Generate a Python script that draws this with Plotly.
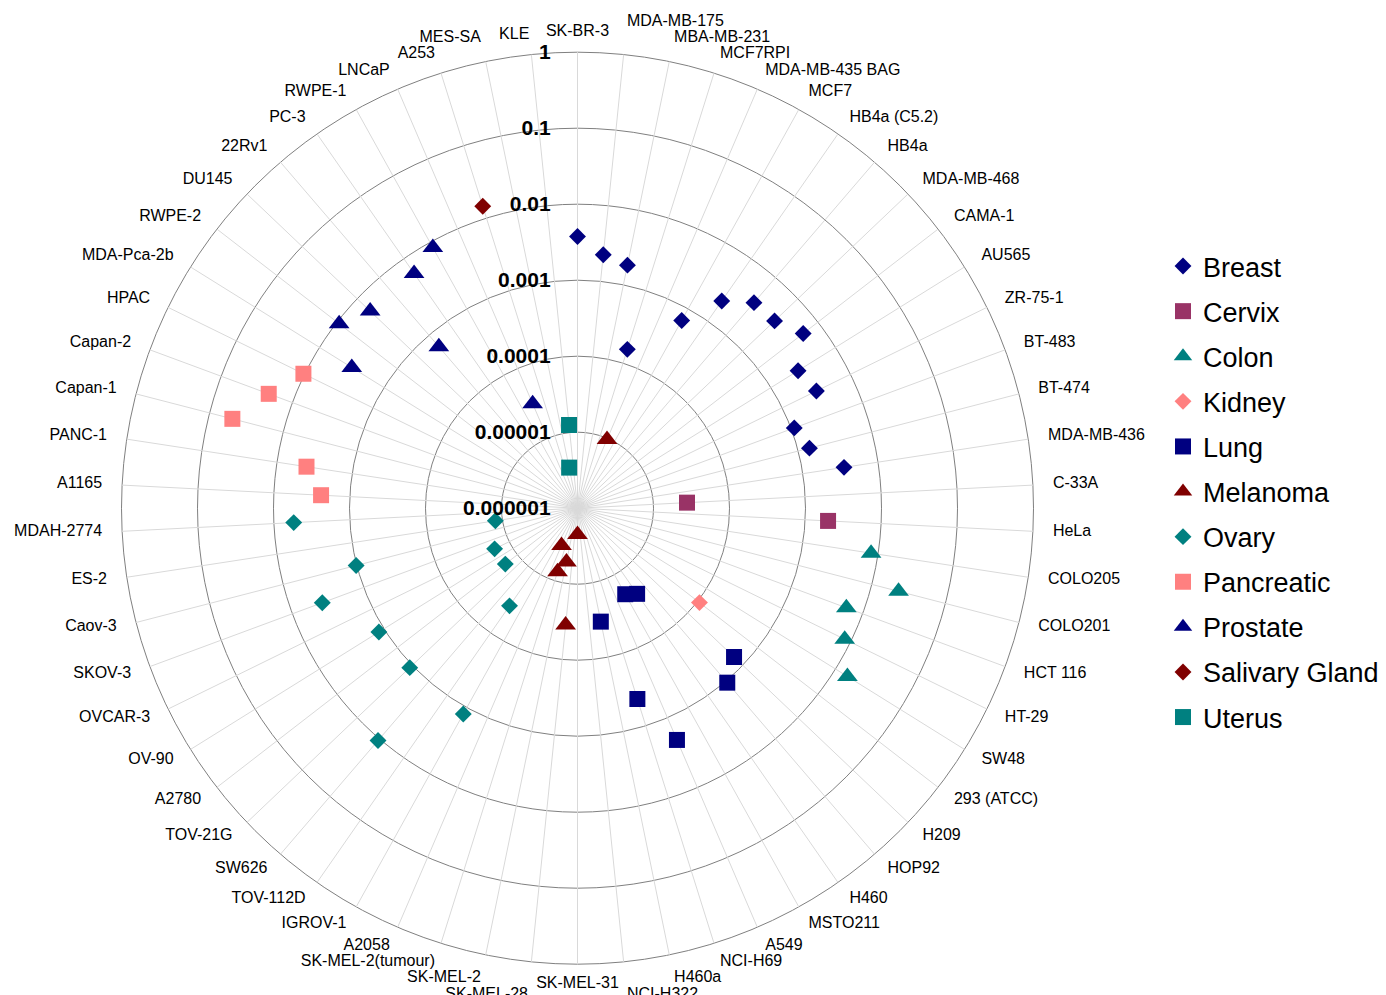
import math
import plotly.graph_objects as go

categories = [
    "SK-BR-3", "MDA-MB-175", "MBA-MB-231", "MCF7RPI", "MDA-MB-435 BAG", "MCF7",
    "HB4a (C5.2)", "HB4a", "MDA-MB-468", "CAMA-1", "AU565", "ZR-75-1", "BT-483",
    "BT-474", "MDA-MB-436", "C-33A", "HeLa", "COLO205", "COLO201", "HCT 116",
    "HT-29", "SW48", "293 (ATCC)", "H209", "HOP92", "H460", "MSTO211", "A549",
    "NCI-H69", "H460a", "NCI-H322", "SK-MEL-31", "SK-MEL-28", "SK-MEL-2",
    "SK-MEL-2(tumour)", "A2058", "IGROV-1", "TOV-112D", "SW626", "TOV-21G",
    "A2780", "OV-90", "OVCAR-3", "SKOV-3", "Caov-3", "ES-2", "MDAH-2774", "A1165",
    "PANC-1", "Capan-1", "Capan-2", "HPAC", "MDA-Pca-2b", "RWPE-2", "DU145",
    "22Rv1", "PC-3", "RWPE-1", "LNCaP", "A253", "MES-SA", "KLE",
]

breast_lines = ["SK-BR-3", "MDA-MB-175", "MBA-MB-231", "MCF7RPI", "MCF7", "HB4a (C5.2)",
                "HB4a", "MDA-MB-468", "CAMA-1", "AU565", "ZR-75-1", "BT-483", "BT-474",
                "MDA-MB-436"]
breast_vals = [3.76e-3, 2.25e-3, 1.84e-3, 1.55e-4, 6.68e-4, 2.10e-3, 3.67e-3, 3.78e-3,
               5.69e-3, 2.63e-3, 3.17e-3, 1.10e-3, 1.42e-3, 3.53e-3]

cervix_lines = ["C-33A", "HeLa"]
cervix_vals = [2.77e-5, 2.00e-3]

colon_lines = ["COLO205", "COLO201", "HCT 116", "HT-29", "SW48"]
colon_vals = [8.09e-3, 2.31e-2, 5.92e-3, 8.24e-3, 1.53e-2]

kidney_lines = ["293 (ATCC)"]
kidney_vals = [1.07e-4]

lung_lines = ["H209", "HOP92", "H460", "MSTO211", "A549", "NCI-H69", "H460a"]
lung_vals = [6.95e-4, 1.06e-3, 2.36e-5, 1.97e-5, 2.08e-3, 4.28e-4, 3.34e-5]

melanoma_lines = ["MDA-MB-435 BAG", "SK-MEL-31", "SK-MEL-28", "SK-MEL-2",
                  "SK-MEL-2(tumour)", "A2058"]
melanoma_vals = [9.66e-6, 2.22e-6, 3.50e-5, 5.27e-6, 7.53e-6, 3.41e-6]

ovary_lines = ["IGROV-1", "TOV-112D", "SW626", "TOV-21G", "A2780", "OV-90", "OVCAR-3",
               "SKOV-3", "Caov-3", "ES-2", "MDAH-2774"]
ovary_vals = [1.25e-3, 3.68e-5, 1.07e-2, 1.11e-3, 1.59e-5, 1.20e-3, 1.64e-5, 3.81e-3,
              1.02e-3, 1.24e-5, 5.48e-3]

pancreatic_lines = ["A1165", "PANC-1", "Capan-1", "Capan-2", "HPAC"]
pancreatic_vals = [2.39e-3, 4.05e-3, 4.91e-2, 2.15e-2, 1.04e-2]

prostate_lines = ["MDA-Pca-2b", "RWPE-2", "DU145", "22Rv1", "PC-3", "RWPE-1", "LNCaP"]
prostate_vals = [3.16e-3, 9.25e-3, 5.81e-3, 6.32e-4, 5.81e-3, 8.36e-3, 3.14e-5]

salivary_lines = ["A253"]
salivary_vals = [1.46e-2]

uterus_lines = ["MES-SA", "KLE"]
uterus_vals = [3.51e-6, 1.26e-5]

radial_tickvals = [1e-6, 1e-5, 1e-4, 1e-3, 1e-2, 1e-1, 1]
radial_ticktext = ["0.000001", "0.00001", "0.0001", "0.001", "0.01", "0.1", "1"]

series = [
    ("Breast", breast_lines, breast_vals, "diamond", "#000080", 13),
    ("Cervix", cervix_lines, cervix_vals, "square", "#993366", 16),
    ("Colon", colon_lines, colon_vals, "triangle-up", "#008080", 18),
    ("Kidney", kidney_lines, kidney_vals, "diamond", "#ff8080", 13),
    ("Lung", lung_lines, lung_vals, "square", "#000080", 16),
    ("Melanoma", melanoma_lines, melanoma_vals, "triangle-up", "#800000", 18),
    ("Ovary", ovary_lines, ovary_vals, "diamond", "#008080", 13),
    ("Pancreatic", pancreatic_lines, pancreatic_vals, "square", "#ff8080", 16),
    ("Prostate", prostate_lines, prostate_vals, "triangle-up", "#000080", 18),
    ("Salivary Gland", salivary_lines, salivary_vals, "diamond", "#800000", 13),
    ("Uterus", uterus_lines, uterus_vals, "square", "#008080", 16),
]

FONT = "Arial, Liberation Sans, sans-serif"
LABEL_FS = 16

# ---- geometry of the polar area (pixels) ----
W, H = 1386, 995
cx, cy = 569.5, 500.2        # centre of the polar area
RING_PX = 456                # radius of the outermost ring (value 1)
LOG_MIN, LOG_TOP = -6, 0     # decades shown inside the outer ring
LOG_EXTRA = 0.5              # extra room outside the ring for the category labels
PX_PER_DEC = RING_PX / (LOG_TOP - LOG_MIN)
R_TOTAL = PX_PER_DEC * (LOG_TOP + LOG_EXTRA - LOG_MIN)

# ---- category label placement (outside the ring, nudged apart when crowded) ----
CHAR_W = {}
for ch, w in zip("ABCDEFGHIJKLMNOPQRSTUVWXYZ",
                 [.667, .667, .722, .722, .667, .611, .778, .722, .278, .5, .667, .556, .833,
                  .722, .778, .667, .778, .722, .667, .611, .722, .667, .944, .667, .667, .611]):
    CHAR_W[ch] = w
for ch, w in zip("abcdefghijklmnopqrstuvwxyz",
                 [.556, .556, .5, .556, .556, .278, .556, .556, .222, .222, .5, .222, .833,
                  .556, .556, .556, .556, .333, .5, .278, .556, .5, .722, .5, .5, .5]):
    CHAR_W[ch] = w
for ch in "0123456789":
    CHAR_W[ch] = .556
CHAR_W.update({"-": .333, " ": .278, "(": .333, ")": .333, ".": .278})


def text_width(s):
    return sum(CHAR_W.get(c, .556) for c in s) * LABEL_FS


n = len(categories)
angles = [i * 360.0 / n for i in range(n)]
positions = []
for a in angles:
    if abs(a) < 1e-9 or abs(a - 180) < 1e-9:
        positions.append("middle center")
    elif a < 180:
        positions.append("middle right")
    else:
        positions.append("middle left")

BASE_GAP, MAX_GAP, BOX_H = 20.0, 37.0, 16


def label_box(i, d):
    t = math.radians(angles[i])
    rho = RING_PX + d
    ax, ay = rho * math.sin(t), -rho * math.cos(t)
    w = text_width(categories[i])
    if positions[i] == "middle center":
        x0 = ax - w / 2
    elif positions[i] == "middle right":
        x0 = ax
    else:
        x0 = ax - w
    return (x0 - 1, ay - BOX_H / 2, x0 + w + 1, ay + BOX_H / 2)


def overlaps(b1, b2):
    return b1[0] < b2[2] and b2[0] < b1[2] and b1[1] < b2[3] and b2[1] < b1[3]


gap_px = [BASE_GAP] * n
placed = []
for i in sorted(range(n), key=lambda k: -abs(math.sin(math.radians(angles[k])))):
    d = BASE_GAP
    while d < MAX_GAP and any(overlaps(label_box(i, d), b) for b in placed):
        d += 0.5
    gap_px[i] = d
    placed.append(label_box(i, d))

label_r = [10 ** ((RING_PX + d) / PX_PER_DEC + LOG_MIN) for d in gap_px]

fig = go.Figure()

# spokes from the centre to the outer ring, one per category
spoke_r, spoke_t = [], []
for c in categories:
    spoke_r += [10 ** LOG_MIN, 10 ** LOG_TOP, None]
    spoke_t += [c, c, c]
fig.add_trace(go.Scatterpolar(
    r=spoke_r, theta=spoke_t, mode="lines", line=dict(color="#d9d9d9", width=1),
    showlegend=False, hoverinfo="skip", connectgaps=False,
))

# category labels
fig.add_trace(go.Scatterpolar(
    r=label_r, theta=categories, mode="text", text=categories, textposition=positions,
    textfont=dict(size=LABEL_FS, family=FONT, color="black"),
    showlegend=False, hoverinfo="skip", cliponaxis=False,
))

for name, lines, vals, symbol, color, size in series:
    fig.add_trace(go.Scatterpolar(
        r=vals, theta=lines, mode="markers", name=name, legendgroup=name,
        cliponaxis=False,
        marker=dict(symbol=symbol, color=color, size=size, opacity=1),
    ))

fig.update_layout(
    width=W, height=H,
    paper_bgcolor="white", plot_bgcolor="white",
    margin=dict(l=0, r=0, t=0, b=0),
    font=dict(family=FONT, color="black"),
    polar=dict(
        domain=dict(x=[(cx - R_TOTAL) / W, (cx + R_TOTAL) / W],
                    y=[(H - cy - R_TOTAL) / H, (H - cy + R_TOTAL) / H]),
        bgcolor="white",
        angularaxis=dict(
            type="category", categoryorder="array", categoryarray=categories,
            direction="clockwise", rotation=90,
            showline=False, showgrid=False, showticklabels=False, ticks="",
        ),
        radialaxis=dict(
            type="log", range=[LOG_MIN, LOG_TOP + LOG_EXTRA], angle=90,
            side="counterclockwise", tickangle=90,
            tickvals=radial_tickvals, ticktext=radial_ticktext,
            showline=False, showgrid=True, gridcolor="#808080", gridwidth=1.2,
            ticks="outside", ticklen=19, tickcolor="rgba(0,0,0,0)",
            tickfont=dict(size=21, family=FONT, color="black", weight="bold"),
        ),
    ),
    legend=dict(
        x=1155 / W, xanchor="left", y=(H - 234) / H, yanchor="top",
        font=dict(size=27, family=FONT, color="black"),
        tracegroupgap=7, bgcolor="rgba(0,0,0,0)",
    ),
)

fig.write_html("out.html")
